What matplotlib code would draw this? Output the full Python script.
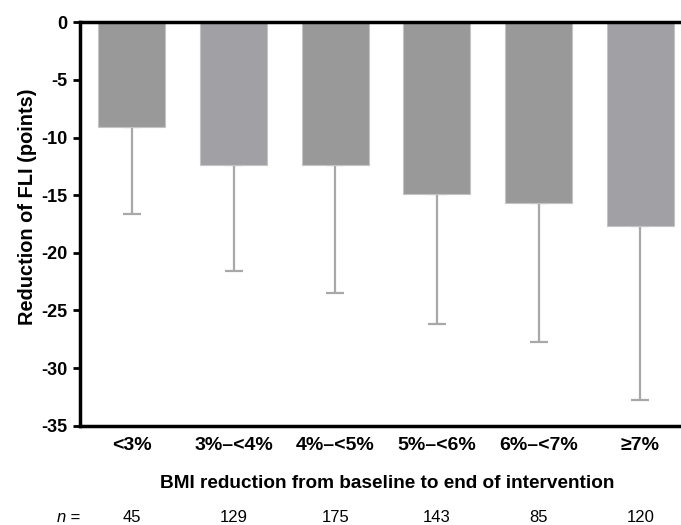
import matplotlib
matplotlib.use("Agg")
import matplotlib.pyplot as plt
import numpy as np

categories = ["<3%", "3%\u2013<4%", "4%\u2013<5%", "5%\u2013<6%", "6%\u2013<7%", "\u22657%"]
mean_reduction = [-9.1, -12.4, -12.35, -14.9, -15.65, -17.65]
sd_reduction = [7.55, 9.2, 11.15, 11.3, 12.05, 15.1]
n_counts = [45, 129, 175, 143, 85, 120]
bar_colors = ["#999999", "#a1a0a4", "#999999", "#999999", "#999999", "#a1a0a4"]
yticks = [0, -5, -10, -15, -20, -25, -30, -35]

FAM = ["Liberation Sans", "DejaVu Sans"]

fig = plt.figure(figsize=(6.81, 5.25), dpi=100)
W, H = 681, 525
ax = fig.add_axes([80 / W, 1 - 425.7 / H, 1 - 80 / W, (425.7 - 22.3) / H])

x = np.arange(len(categories))
ax.bar(x, mean_reduction, width=0.66, color=bar_colors, edgecolor="#c4c4c4",
       linewidth=0.8, zorder=2)
ax.errorbar(x, mean_reduction, yerr=[sd_reduction, [0] * len(sd_reduction)],
            fmt="none", ecolor="#a8a8a8", elinewidth=1.6, capsize=6.8,
            capthick=1.6, zorder=1)

ax.set_xlim(-0.51, 5.40)
ax.set_ylim(-35, 0)
ax.set_yticks(yticks)
ax.set_yticklabels([str(v) for v in yticks], fontweight="bold", fontsize=13,
                   family=FAM)
ax.set_xticks(x)
ax.set_xticklabels(categories, fontweight="bold", fontsize=14, family=FAM)
ax.tick_params(axis="x", length=0, pad=8)
ax.tick_params(axis="y", length=5, width=2, direction="out", pad=4)

for s in ["left", "bottom", "top"]:
    ax.spines[s].set_linewidth(2.5)
    ax.spines[s].set_color("black")
ax.spines["right"].set_visible(False)

ax.set_ylabel("Reduction of FLI (points)", fontweight="bold", fontsize=14.4,
              family=FAM)
ax.yaxis.set_label_coords((37 - 80) / 601, (425.7 - 206.7) / 403.4)

fig.text(387 / W, 1 - 483.5 / H,
         "BMI reduction from baseline to end of intervention",
         ha="center", va="center", fontweight="bold", fontsize=13.7, family=FAM)

fig.text(66 / W, 1 - 517 / H, "n", ha="right", va="center", fontsize=12,
         style="italic", family=FAM)
fig.text(66 / W, 1 - 517 / H, " =", ha="left", va="center", fontsize=12,
         family=FAM)
for xi, n in zip(x, n_counts):
    xd = ax.transData.transform((xi, 0))[0]
    fig.text(xd / W, 1 - 517 / H, str(n), ha="center", va="center",
             fontsize=12, family=FAM)

fig.savefig("out.png", dpi=100)
